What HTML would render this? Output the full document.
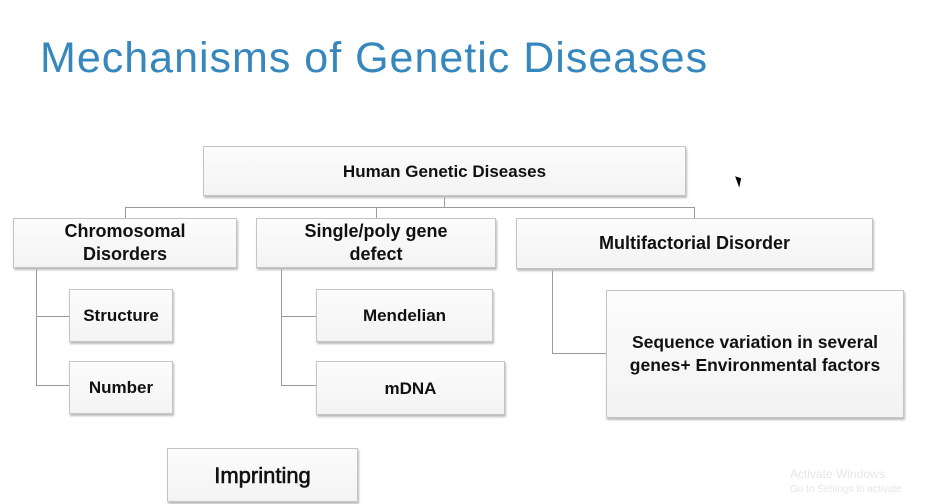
<!DOCTYPE html>
<html><head><style>
body{margin:0;width:926px;height:504px;background:#fff;position:relative;overflow:hidden;font-family:"Liberation Sans",sans-serif}
.t{position:absolute;left:40px;top:34px;font-size:43px;color:#3687bd;letter-spacing:1px;white-space:nowrap}
.b{position:absolute;box-sizing:border-box;border:1.5px solid #c4c4c4;background:linear-gradient(#fcfcfc,#f3f3f3);box-shadow:1px 2px 2px #bbb;display:flex;align-items:center;justify-content:center;text-align:center;font-weight:bold;font-size:17px;color:#111;line-height:23px}
.l{position:absolute;background:#9a9a9a}
</style></head><body>
<div class="t">Mechanisms of Genetic Diseases</div>
<div class="l" style="left:444px;top:196px;width:1px;height:11px"></div>
<div class="l" style="left:125px;top:207px;width:570px;height:1px"></div>
<div class="l" style="left:125px;top:207px;width:1px;height:11px"></div>
<div class="l" style="left:376px;top:207px;width:1px;height:11px"></div>
<div class="l" style="left:694px;top:207px;width:1px;height:11px"></div>
<div class="l" style="left:36px;top:268px;width:1px;height:117px"></div>
<div class="l" style="left:36px;top:316px;width:33px;height:1px"></div>
<div class="l" style="left:36px;top:385px;width:33px;height:1px"></div>
<div class="l" style="left:281px;top:268px;width:1px;height:117px"></div>
<div class="l" style="left:281px;top:316px;width:35px;height:1px"></div>
<div class="l" style="left:281px;top:385px;width:35px;height:1px"></div>
<div class="l" style="left:552px;top:269px;width:1px;height:84px"></div>
<div class="l" style="left:552px;top:353px;width:54px;height:1px"></div>
<div class="b" style="left:203px;top:146px;width:483px;height:50px">Human Genetic Diseases</div>
<div class="b" style="left:13px;top:218px;width:224px;height:50px;font-size:18px">Chromosomal<br>Disorders</div>
<div class="b" style="left:256px;top:218px;width:240px;height:50px;font-size:18px">Single/poly gene<br>defect</div>
<div class="b" style="left:516px;top:218px;width:357px;height:51px;font-size:18px">Multifactorial Disorder</div>
<div class="b" style="left:69px;top:289px;width:104px;height:53px">Structure</div>
<div class="b" style="left:69px;top:361px;width:104px;height:53px">Number</div>
<div class="b" style="left:316px;top:289px;width:177px;height:53px">Mendelian</div>
<div class="b" style="left:316px;top:361px;width:189px;height:54px">mDNA</div>
<div class="b" style="left:606px;top:290px;width:298px;height:128px;font-size:17.5px">Sequence variation in several<br>genes+ Environmental factors</div>
<div class="b" style="left:167px;top:448px;width:191px;height:54px;font-size:22px;font-weight:normal;-webkit-text-stroke:0.6px #111">Imprinting</div>
<div style="position:absolute;left:737px;top:175px;width:0;height:0;border-left:5px solid #000;border-top:4px solid transparent;border-bottom:8px solid transparent;transform:rotate(-20deg)"></div>
<div style="position:absolute;left:790px;top:467px;font-size:12px;color:#e6e6e6;line-height:14px">Activate Windows<br><span style="font-size:10px">Go to Settings to activate</span></div>
</body></html>
